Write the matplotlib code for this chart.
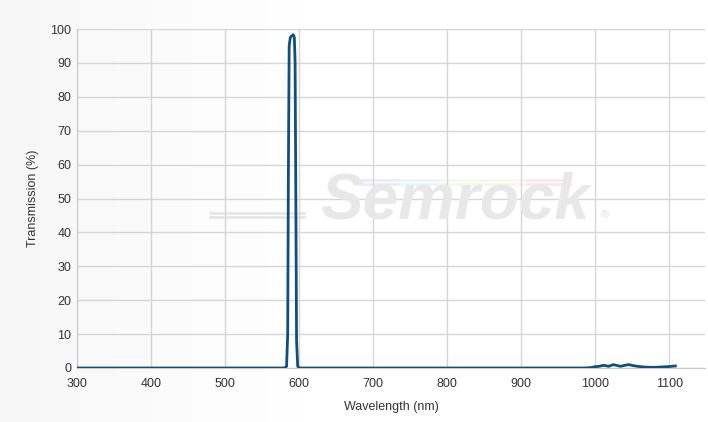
import numpy as np
import matplotlib.pyplot as plt

# ---- data ----
wavelength = [300, 580, 583, 584.5, 585.5, 586.5, 588, 590, 592, 593.5, 594.5, 595.5,
              596.5, 598, 600, 985, 993, 1000, 1005, 1011, 1018, 1024, 1030, 1034,
              1040, 1045, 1051, 1057, 1065, 1074, 1081, 1088, 1098, 1108]
transmission = [0, 0, 0.5, 10, 60, 95, 97.5, 98, 98.3, 97.5, 90, 50,
                8, 0.5, 0, 0, 0.1, 0.4, 0.5, 0.8, 0.5, 1.0, 0.7, 0.5,
                0.8, 1.0, 0.7, 0.5, 0.3, 0.2, 0.2, 0.3, 0.4, 0.6]

x_ticks = [300, 400, 500, 600, 700, 800, 900, 1000, 1100]
y_ticks = [0, 10, 20, 30, 40, 50, 60, 70, 80, 90, 100]

plt.rcParams['font.family'] = ['Liberation Sans', 'DejaVu Sans']

fig = plt.figure(figsize=(7.08, 4.22), dpi=100)

# light grey gradient on the left of the background
bg = fig.add_axes([0, 0, 1, 1], zorder=-10)
grad = np.clip(np.linspace(0, 1, 512) * 2.2, 0, 1)
bg.imshow(grad[np.newaxis, :], aspect='auto', cmap='Greys_r', vmin=-14, vmax=1,
          extent=[0, 1, 0, 1])
bg.set_axis_off()

ax = fig.add_axes([77 / 708, 54 / 422, 628 / 708, 339 / 422])
ax.patch.set_alpha(0)

# watermark
fig.text(0.643, 0.522, "Semrock", fontsize=46, fontweight='bold', style='italic',
         color='#e8e8e8', ha='center', va='center', zorder=0)
fig.text(0.855, 0.49, "®", fontsize=8, color='#e4e4e4', ha='center', va='center')
for dy in (0.0, 0.011):
    fig.add_artist(plt.Line2D([0.297, 0.43], [0.496 - dy, 0.496 - dy], color='#e4e4e4',
                              lw=1.8, zorder=0))
rainbow = ['#e8e8fa', '#e6f7fa', '#f2fae6', '#faf5e6', '#fae6e6']
for i, c in enumerate(rainbow):
    x0 = 0.505 + i * 0.06
    for dy in (0.0, 0.011):
        fig.add_artist(plt.Line2D([x0, x0 + 0.06], [0.574 - dy, 0.574 - dy], color=c,
                                  lw=1.8, zorder=0))

ax.plot(wavelength, transmission, color='#0f4f7f', lw=2.0, zorder=3)

ax.set_xlim(300, 1148)
ax.set_ylim(0, 100)
ax.set_xticks(x_ticks)
ax.set_yticks(y_ticks)
ax.grid(True, color='#d6d6d6', lw=1)
ax.set_axisbelow(True)
for s in ['top', 'right']:
    ax.spines[s].set_visible(False)
for s in ['left', 'bottom']:
    ax.spines[s].set_color('#c8c8c8')
ax.tick_params(length=0, labelsize=9, colors='#333333')
ax.tick_params(axis='x', pad=7)
ax.tick_params(axis='y', pad=4)
ax.set_xlabel("Wavelength (nm)", fontsize=9, color='#333333', labelpad=8)
ax.set_ylabel("Transmission (%)", fontsize=9, color='#333333', labelpad=8)

fig.savefig("out.png", dpi=100)
